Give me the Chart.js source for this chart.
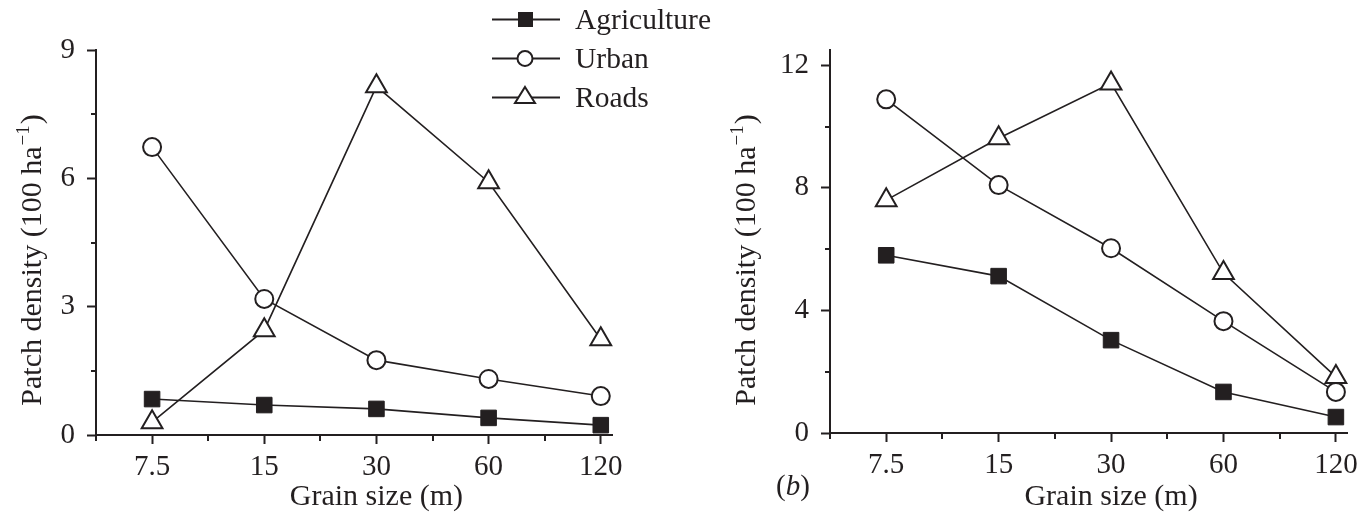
<!DOCTYPE html>
<html>
<head>
<meta charset="utf-8">
<title>Patch density vs grain size</title>
<script src="https://cdn.jsdelivr.net/npm/chart.js@4.4.1/dist/chart.umd.min.js"></script>
<style>
  html, body { margin: 0; padding: 0; background: #fff; }
  #figure { position: relative; width: 1364px; height: 520px; overflow: hidden; font-family: "Liberation Serif", "Times New Roman", serif; color: #231f20; }
  #figure canvas { position: absolute; top: 0; }
  #legend { position: absolute; left: 492px; top: 0; font-size: 29.5px; }
  .legend-row { display: flex; align-items: center; height: 39px; }
  .legend-row svg { margin-right: 13px; }
  #panelLabel { position: absolute; left: 776px; top: 469px; font-size: 29px; }
</style>
</head>
<body>
<div id="figure">
  <canvas id="chartA" width="650" height="520" style="left:0"></canvas>
  <canvas id="chartB" width="714" height="520" style="left:650px"></canvas>
  <div id="legend"></div>
  <div id="panelLabel">(<i>b</i>)</div>
</div>
<script>
  const INK = "#231f20";
  const FONT_FAMILY = '"Liberation Serif", "Times New Roman", serif';

  // data
  const grainSizes = ["7.5", "15", "30", "60", "120"];
  const seriesNames = ["Agriculture", "Urban", "Roads"];

  const agricultureA = [0.84, 0.70, 0.61, 0.40, 0.23];
  const urbanA = [6.73, 3.18, 1.75, 1.31, 0.91];
  const roadsA = [0.30, 2.45, 8.15, 5.91, 2.24];

  const agricultureB = [5.80, 5.12, 3.03, 1.34, 0.52];
  const urbanB = [10.89, 8.09, 6.03, 3.65, 1.34];
  const roadsB = [7.60, 9.62, 11.41, 5.22, 1.83];

  const yTicksA = [0, 3, 6, 9];
  const yMinorA = [1.5, 4.5, 7.5];
  const yTicksB = [0, 4, 8, 12];
  const yMinorB = [2, 6, 10];
  const xMinor = [-0.5, 0.5, 1.5, 2.5, 3.5];

  const markerStyles = [
    { pointStyle: "rect", pointRadius: 11, pointBackgroundColor: INK, pointBorderWidth: 1, order: 2 },
    { pointStyle: "circle", pointRadius: 9, pointBackgroundColor: "#fff", pointBorderWidth: 2, order: 1 },
    { pointStyle: "triangle", pointRadius: 12, pointBackgroundColor: "#fff", pointBorderWidth: 2, order: 0 }
  ];

  const axisExtras = {
    id: "axisExtras",
    afterDraw(chart, _args, o) {
      const { ctx, chartArea: a, scales: { x, y } } = chart;
      ctx.save();
      ctx.strokeStyle = INK;
      ctx.lineWidth = 2;
      ctx.beginPath();
      o.yMinor.forEach((v) => {
        const p = Math.round(y.getPixelForValue(v));
        ctx.moveTo(a.left - 5, p);
        ctx.lineTo(a.left, p);
      });
      xMinor.forEach((v) => {
        const p = Math.round(x.getPixelForValue(v));
        ctx.moveTo(p, a.bottom);
        ctx.lineTo(p, a.bottom + 6);
      });
      ctx.stroke();

      ctx.fillStyle = INK;
      ctx.font = `30px ${FONT_FAMILY}`;
      ctx.textAlign = "center";
      ctx.textBaseline = "middle";
      ctx.fillText("Grain size (m)", x.getPixelForValue(2), a.bottom + o.xTitleGap);

      // rotated y title with superscript
      ctx.translate(a.left - o.yTitleGap, a.top + 210);
      ctx.rotate(-Math.PI / 2);
      ctx.textAlign = "left";
      ctx.textBaseline = "alphabetic";
      const main = "Patch density (100 ha";
      const sup = "\u22121";
      const close = ")";
      ctx.font = `30px ${FONT_FAMILY}`;
      const wMain = ctx.measureText(main).width;
      const wClose = ctx.measureText(close).width;
      ctx.font = `19px ${FONT_FAMILY}`;
      const wSup = ctx.measureText(sup).width;
      let cx = -(wMain + wSup + wClose + 2) / 2;
      const base = 10;
      ctx.font = `30px ${FONT_FAMILY}`;
      ctx.fillText(main, cx, base);
      cx += wMain + 1;
      ctx.font = `19px ${FONT_FAMILY}`;
      ctx.fillText(sup, cx, base - 12);
      cx += wSup + 1;
      ctx.font = `30px ${FONT_FAMILY}`;
      ctx.fillText(close, cx, base);
      ctx.restore();
    }
  };

  function buildChart(canvasId, seriesValues, yTicks, yMax, layout) {
    const datasets = seriesValues.map((values, i) => Object.assign({
      label: seriesNames[i],
      data: values.map((v, k) => ({ x: k, y: v })),
      borderColor: INK,
      borderWidth: 1.6,
      pointBorderColor: INK,
      pointHoverRadius: markerStyles[i].pointRadius,
      clip: false
    }, markerStyles[i]));

    const tickFont = { family: FONT_FAMILY, size: 29 };

    return new Chart(document.getElementById(canvasId), {
      type: "line",
      data: { datasets },
      plugins: [axisExtras],
      options: {
        responsive: false,
        animation: false,
        layout: { padding: { left: 0, right: layout.padRight, top: 50, bottom: 0 } },
        plugins: {
          legend: { display: false },
          tooltip: { enabled: false },
          axisExtras: { yMinor: layout.yMinor, xTitleGap: layout.xTitleGap, yTitleGap: layout.yTitleGap }
        },
        scales: {
          x: {
            type: "linear",
            min: -0.5,
            max: 4.1,
            afterBuildTicks: (s) => { s.ticks = grainSizes.map((_, i) => ({ value: i })); },
            afterFit: (s) => { s.height = layout.xHeight; },
            ticks: { callback: (v) => grainSizes[v], font: tickFont, color: INK, padding: 6, maxRotation: 0, autoSkip: false },
            grid: { drawOnChartArea: false, drawTicks: true, tickLength: 9, tickWidth: 2, tickColor: INK },
            border: { color: INK, width: 2 }
          },
          y: {
            min: 0,
            max: yMax,
            afterBuildTicks: (s) => { s.ticks = yTicks.map((v) => ({ value: v })); },
            afterFit: (s) => { s.width = layout.yWidth; },
            ticks: { font: tickFont, color: INK, padding: 12 },
            grid: { drawOnChartArea: false, drawTicks: true, tickLength: 9, tickWidth: 2, tickColor: INK },
            border: { color: INK, width: 2 }
          }
        }
      }
    });
  }

  buildChart("chartA", [agricultureA, urbanA, roadsA], yTicksA, 9,
    { padRight: 38, xHeight: 85, yWidth: 96, yMinor: yMinorA, xTitleGap: 62, yTitleGap: 65 });
  buildChart("chartB", [agricultureB, urbanB, roadsB], yTicksB, 12.5,
    { padRight: 16, xHeight: 87, yWidth: 180, yMinor: yMinorB, xTitleGap: 64, yTitleGap: 85 });

  // legend: line + marker + name, built from the series names
  function markerSvg(i) {
    const mid = 'y1="19.5" y2="19.5"';
    let shape = "";
    if (i === 0) shape = `<rect x="26" y="12" width="15" height="15" fill="${INK}"/>`;
    if (i === 1) shape = `<circle cx="33" cy="19.5" r="7.5" fill="#fff" stroke="${INK}" stroke-width="2"/>`;
    if (i === 2) shape = `<polygon points="33,9 43,25 23,25" fill="#fff" stroke="${INK}" stroke-width="2"/>`;
    return `<svg width="70" height="39"><line x1="0" x2="68" ${mid} stroke="${INK}" stroke-width="2"/>${shape}</svg>`;
  }
  document.getElementById("legend").innerHTML = seriesNames
    .map((name, i) => `<div class="legend-row">${markerSvg(i)}<span>${name}</span></div>`)
    .join("");
</script>
</body>
</html>
